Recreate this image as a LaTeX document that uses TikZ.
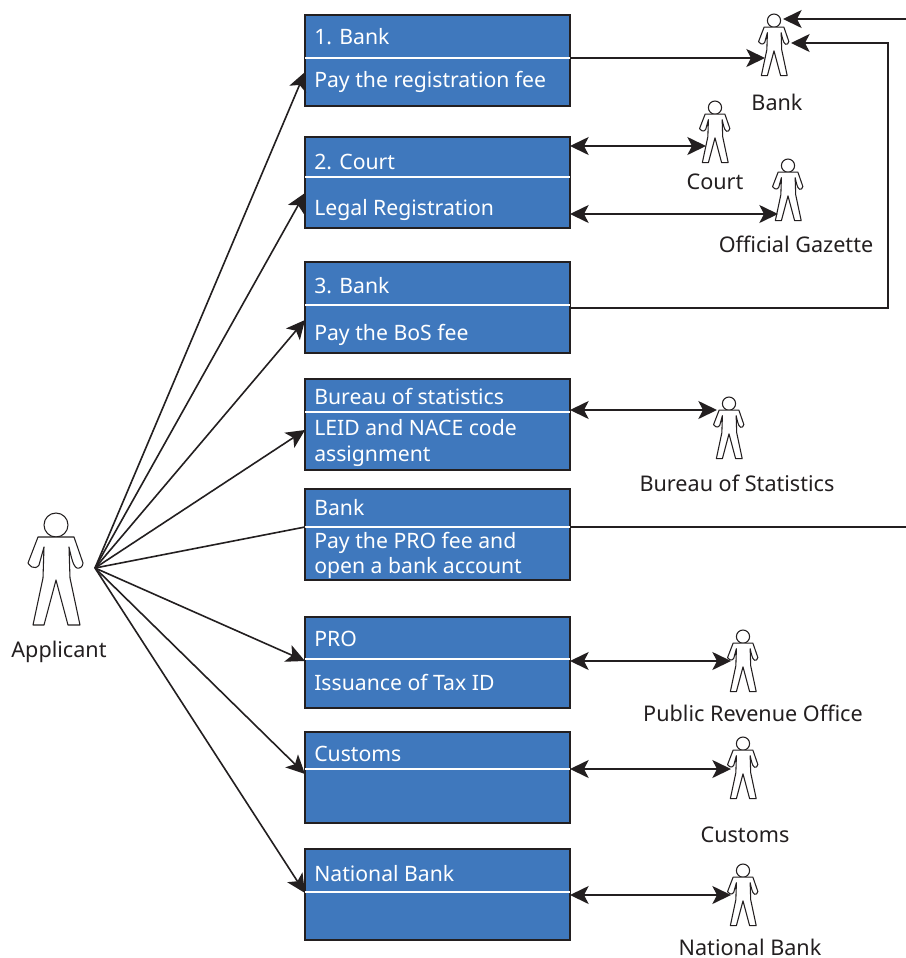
\documentclass[tikz,border=0pt]{standalone}
\usepackage{fontspec}
\setmainfont{Noto Sans}
\usetikzlibrary{arrows.meta,calc}
\definecolor{boxblue}{HTML}{3F78BD}
\definecolor{ink}{HTML}{231F20}
\tikzset{
  card/.style={draw=ink,line width=1.5pt,fill=boxblue,minimum width=198.75pt,minimum height=68.25pt,inner sep=0pt,outer sep=0pt,anchor=north west},
  divider/.style={draw=white,line width=1.1pt},
  cardtext/.style={text=white,font=\fontsize{15.9pt}{19pt}\selectfont,anchor=base west,inner sep=0pt,align=left},
  caption/.style={text=ink,font=\fontsize{16.2pt}{19pt}\selectfont,anchor=base,inner sep=0pt},
  link/.style={draw=ink,line width=1.2pt},
  oneway/.style={link,-{Stealth[length=14pt,width=13.5pt,inset=3.5pt]}},
  twoway/.style={link,{Stealth[length=14pt,width=13.5pt,inset=3.5pt]}-{Stealth[length=14pt,width=13.5pt,inset=3.5pt]}},
  figure/.style={draw=ink,line width=0.8pt,fill=white,line join=round},
  person/.pic={
    \draw[figure] (0,12) circle (12);
    \draw[figure] (-18,24) -- (18,24) -- (27,50)
      .. controls (27,54) and (23,56) .. (21,55) .. controls (19,54) and (17,53) .. (13,34)
      -- (14,65) -- (24,112) -- (12,112) -- (0,67) -- (-12,112) -- (-23,112) -- (-13,65) -- (-12,34)
      -- (-17,52) .. controls (-19,55) and (-22,55) .. (-24,54) .. controls (-27,52) and (-28,50) .. (-28,50) -- cycle;
  }
}
\begin{document}
\begin{tikzpicture}[x=0.75pt,y=-0.75pt]
\useasboundingbox[fill=white] (0,0) rectangle (906,958);
% boxes
\node[card] (b1) at (305,15) {};
\node[card] (b2) at (305,137) {};
\node[card] (b3) at (305,262) {};
\node[card] (b4) at (305,379) {};
\node[card] (b5) at (305,489) {};
\node[card] (b6) at (305,617) {};
\node[card] (b7) at (305,732) {};
\node[card] (b8) at (305,849) {};
\draw[divider] ($(b1.north west)+(0,43)$) -- ($(b1.north east)+(0,43)$);
\draw[divider] ($(b2.north west)+(0,40)$) -- ($(b2.north east)+(0,40)$);
\draw[divider] ($(b3.north west)+(0,43)$) -- ($(b3.north east)+(0,43)$);
\draw[divider] ($(b4.north west)+(0,33)$) -- ($(b4.north east)+(0,33)$);
\draw[divider] ($(b5.north west)+(0,38)$) -- ($(b5.north east)+(0,38)$);
\draw[divider] ($(b6.north west)+(0,42)$) -- ($(b6.north east)+(0,42)$);
\draw[divider] ($(b7.north west)+(0,37)$) -- ($(b7.north east)+(0,37)$);
\draw[divider] ($(b8.north west)+(0,43)$) -- ($(b8.north east)+(0,43)$);
% box text
\node[cardtext] (t1a) at (314,44) {1. Bank};
\node[cardtext] (t1b) at (314,87) {Pay the registration fee};
\node[cardtext] (t2a) at (314,169) {2. Court};
\node[cardtext] (t2b) at (314,215) {Legal Registration};
\node[cardtext] (t3a) at (314,293) {3. Bank};
\node[cardtext] (t3b) at (314,340) {Pay the BoS fee};
\node[cardtext] (t4a) at (314,404) {Bureau of statistics};
\node[cardtext] (t4b) at (314,435) {LEID and NACE code};
\node[cardtext] (t4c) at (314,461) {assignment};
\node[cardtext] (t5a) at (314,515) {Bank};
\node[cardtext] (t5b) at (314,548) {Pay the PRO fee and};
\node[cardtext] (t5c) at (314,573) {open a bank account};
\node[cardtext] (t6a) at (314,646) {PRO};
\node[cardtext] (t6b) at (314,690) {Issuance of Tax ID};
\node[cardtext] (t7a) at (314,761) {Customs};
\node[cardtext] (t8a) at (314,881) {National Bank};
% people
\pic at (56,513) {person};
\pic[scale=0.55,transform shape] at (774,14) {person};
\pic[scale=0.55,transform shape] at (715,101) {person};
\pic[scale=0.55,transform shape] at (788,159) {person};
\pic[scale=0.55,transform shape] at (729,397) {person};
\pic[scale=0.55,transform shape] at (743,630) {person};
\pic[scale=0.55,transform shape] at (743,737) {person};
\pic[scale=0.55,transform shape] at (743,864) {person};
% captions
\node[caption] (capA) at (59,657) {Applicant};
\node[caption] (capB) at (777,110) {Bank};
\node[caption] (capC) at (715,189) {Court};
\node[caption] (capG) at (796,252) {Official Gazette};
\node[caption] (capS) at (737,491) {Bureau of Statistics};
\node[caption] (capP) at (753,721) {Public Revenue Office};
\node[caption] (capU) at (745,842) {Customs};
\node[caption] (capN) at (750,955) {National Bank};
% connector ends
\coordinate (hub) at (95,568);
\coordinate (pBankIn) at (765,58);
\coordinate (pBankTop) at (783,19);
\coordinate (pBankSide) at (791,43);
\coordinate (pCourt) at (706,146);
\coordinate (pGazette) at (778,214);
\coordinate (pStats) at (717,410);
\coordinate (pRevenue) at (731,661);
\coordinate (pCustoms) at (731,769);
\coordinate (pNational) at (731,895);
\coordinate (offTop) at (906,19);
\coordinate (offMid) at (906,527);
\coordinate (bend) at (888,308);
\coordinate (bendTop) at (888,43);
% applicant fan
\draw[oneway] (hub) -- ($(b1.north west)+(0,57)$);
\draw[oneway] (hub) -- ($(b2.north west)+(0,56)$);
\draw[oneway] (hub) -- ($(b3.north west)+(0,58)$);
\draw[oneway] (hub) -- ($(b4.north west)+(0,51)$);
\draw[link] (hub) -- ($(b5.north west)+(0,38)$);
\draw[oneway] (hub) -- ($(b6.north west)+(0,44)$);
\draw[oneway] (hub) -- ($(b7.north west)+(0,42)$);
\draw[oneway] (hub) -- ($(b8.north west)+(0,44)$);
% right side
\draw[oneway] ($(b1.north east)+(0,43)$) -- (pBankIn);
\draw[twoway] ($(b2.north east)+(0,9)$) -- (pCourt);
\draw[twoway] ($(b2.north east)+(0,77)$) -- (pGazette);
\draw[oneway] ($(b3.north east)+(0,46)$) -- (bend) -- (bendTop) -- (pBankSide);
\draw[twoway] ($(b4.north east)+(0,31)$) -- (pStats);
\draw[link] ($(b5.north east)+(0,38)$) -- (offMid);
\draw[oneway] (offTop) -- (pBankTop);
\draw[twoway] ($(b6.north east)+(0,44)$) -- (pRevenue);
\draw[twoway] ($(b7.north east)+(0,37)$) -- (pCustoms);
\draw[twoway] ($(b8.north east)+(0,46)$) -- (pNational);
\end{tikzpicture}
\end{document}
